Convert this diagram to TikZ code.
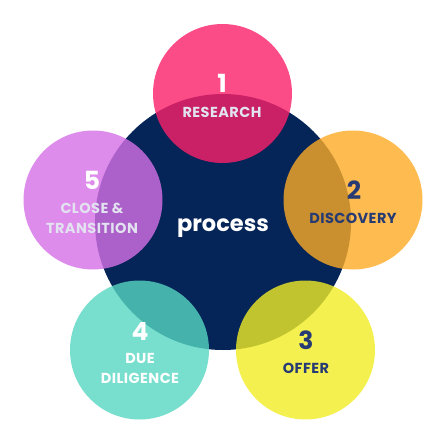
\documentclass[tikz,border=0pt]{standalone}
\usepackage{fontspec}
\setmainfont{Poppins}
\usetikzlibrary{positioning}

\definecolor{corenavy}{RGB}{5,36,87}
\definecolor{pinkc}{RGB}{251,31,106}
\definecolor{orangec}{RGB}{252,170,36}
\definecolor{yellowc}{RGB}{240,236,36}
\definecolor{tealc}{RGB}{86,214,193}
\definecolor{violetc}{RGB}{214,111,230}
\definecolor{darktext}{RGB}{38,58,115}
\definecolor{paletext}{RGB}{226,226,240}

\tikzset{
    petal/.style={circle, minimum size=139pt, inner sep=0pt, fill opacity=0.8},
    num/.style={font=\bfseries\fontsize{25}{25}\selectfont, inner sep=0pt},
    lbl/.style={font=\bfseries\fontsize{14.5}{20}\selectfont\addfontfeatures{LetterSpace=3}, align=center, inner sep=0pt},
}

\begin{document}
\begin{tikzpicture}[x=1pt, y=-1pt]
    \useasboundingbox (0,0) rectangle (448,448);

    \node[circle, fill=corenavy, minimum size=256pt, inner sep=0pt] (core) at (223,222) {};

    \node[petal, fill=pinkc] (research) at (222.5,93.5) {};
    \node[petal, fill=orangec] (discovery) at (353,200) {};
    \node[petal, fill=yellowc] (offer) at (305.5,350) {};
    \node[petal, fill=tealc] (diligence) at (139.5,350) {};
    \node[petal, fill=violetc] (closing) at (93,200) {};

    \node[text=white, font=\bfseries\fontsize{22.5}{22.5}\selectfont] (proc) at (223,228) {process};

    % step numbers and names
    \node[num, text=white] (n1) at (222,83) {1};
    \node[lbl, text=paletext] (t1) at (222,112) {RESEARCH};

    \node[num, text=darktext] (n2) at (354,190) {2};
    \node[lbl, text=darktext] (t2) at (353,218) {DISCOVERY};

    \node[num, text=darktext] (n3) at (306,340) {3};
    \node[lbl, text=darktext] (t3) at (306,368) {OFFER};

    \node[num, text=white] (n4) at (140,331) {4};
    \node[lbl, text=white] (t4) at (140,368) {DUE\\DILIGENCE};

    \node[num, text=white] (n5) at (92,180) {5};
    \node[lbl, text=paletext] (t5) at (92,218) {CLOSE \&\\TRANSITION};

\end{tikzpicture}
\end{document}
